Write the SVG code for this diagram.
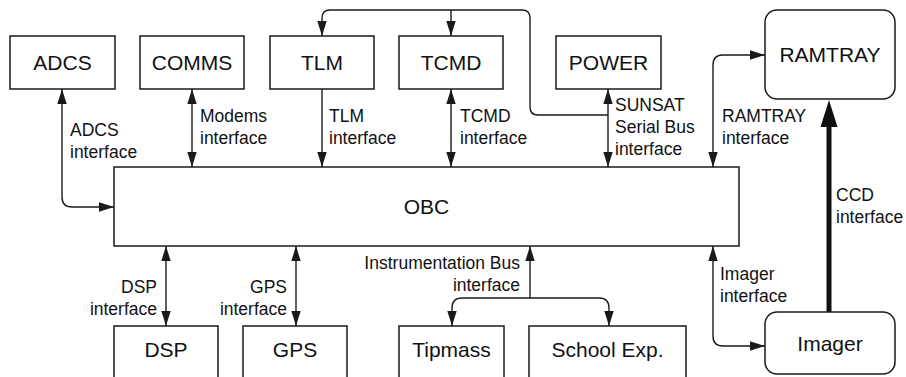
<svg xmlns="http://www.w3.org/2000/svg" width="906" height="377" viewBox="0 0 906 377">
  <style>
    .box { fill: #ffffff; stroke: #1a1a1a; stroke-width: 1.5; }
    .name { font-family: "Liberation Sans", Arial, sans-serif; font-size: 21px; fill: #111; text-anchor: middle; }
    .lbl { font-family: "Liberation Sans", Arial, sans-serif; font-size: 17.5px; fill: #111; }
    .lblr { font-family: "Liberation Sans", Arial, sans-serif; font-size: 17.5px; fill: #111; text-anchor: end; }
    .wire { fill: none; stroke: #1a1a1a; stroke-width: 1.4; }
    .end { marker-end: url(#arr); }
    .both { marker-start: url(#arr); marker-end: url(#arr); }
  </style>
  <defs>
    <marker id="arr" markerUnits="userSpaceOnUse" markerWidth="15" markerHeight="10" viewBox="0 0 15 10" refX="15" refY="5" orient="auto-start-reverse">
      <path d="M0,0.3 L15,5 L0,9.7 z" fill="#1a1a1a"/>
    </marker>
  </defs>
  <rect width="906" height="377" fill="#ffffff"/>

  <!-- connectors -->
  <g id="connectors">
    <!-- SUNSAT serial bus -->
    <path class="wire" marker-start="url(#arr)" d="M322,36 V18 Q322,10 330,10 H522 Q530,10 530,18 V107 Q530,115 538,115 H608"/>
    <path class="wire end" d="M451,10 V36"/>
    <path class="wire both" d="M608,89 V167"/>
    <!-- top interfaces -->
    <path class="wire both" d="M62,89 V197 Q62,207 72,207 H114"/>
    <path class="wire both" d="M192,89 V167"/>
    <path class="wire end" d="M322,89 V167"/>
    <path class="wire both" d="M451,89 V167"/>
    <path class="wire both" d="M713,167 V65 Q713,55 723,55 H765"/>
    <!-- bottom interfaces -->
    <path class="wire both" d="M166,246 V326"/>
    <path class="wire both" d="M296,246 V326"/>
    <path class="wire end" d="M530,298 V246"/>
    <path class="wire both" d="M452,326 V308 Q452,298 462,298 H599 Q609,298 609,308 V326"/>
    <path class="wire both" d="M713,246 V336 Q713,346 723,346 H765"/>
    <!-- CCD link -->
    <path fill="none" stroke="#111" stroke-width="5" d="M829,312 V124"/>
    <polygon points="829,100 820.5,127 837.5,127" fill="#111"/>
  </g>

  <!-- connector labels -->
  <g id="labels">
    <text class="lbl" x="70" y="136">ADCS</text>
    <text class="lbl" x="70" y="158">interface</text>
    <text class="lbl" x="200" y="122">Modems</text>
    <text class="lbl" x="200" y="144">interface</text>
    <text class="lbl" x="329" y="122">TLM</text>
    <text class="lbl" x="329" y="144">interface</text>
    <text class="lbl" x="460" y="122">TCMD</text>
    <text class="lbl" x="460" y="144">interface</text>
    <text class="lbl" x="615" y="111">SUNSAT</text>
    <text class="lbl" x="615" y="133">Serial Bus</text>
    <text class="lbl" x="615" y="155">interface</text>
    <text class="lbl" x="722" y="122">RAMTRAY</text>
    <text class="lbl" x="722" y="144">interface</text>
    <text class="lbl" x="836" y="201">CCD</text>
    <text class="lbl" x="836" y="223">interface</text>
    <text class="lbl" x="720" y="280">Imager</text>
    <text class="lbl" x="720" y="302">interface</text>
    <text class="lblr" x="157" y="293">DSP</text>
    <text class="lblr" x="157" y="315">interface</text>
    <text class="lblr" x="287" y="293">GPS</text>
    <text class="lblr" x="287" y="315">interface</text>
    <text class="lblr" x="520" y="269">Instrumentation Bus</text>
    <text class="lblr" x="520" y="291">interface</text>
  </g>

  <!-- nodes -->
  <g id="adcs"><rect class="box" x="10" y="36" width="105" height="53"/><text class="name" x="62.5" y="70">ADCS</text></g>
  <g id="comms"><rect class="box" x="140" y="36" width="104" height="53"/><text class="name" x="192" y="70">COMMS</text></g>
  <g id="tlm"><rect class="box" x="270" y="36" width="104" height="53"/><text class="name" x="322" y="70">TLM</text></g>
  <g id="tcmd"><rect class="box" x="399" y="36" width="104" height="53"/><text class="name" x="451" y="70">TCMD</text></g>
  <g id="power"><rect class="box" x="556" y="36" width="105" height="53"/><text class="name" x="608.5" y="70">POWER</text></g>
  <g id="ramtray"><rect class="box" x="765" y="10" width="130" height="89" rx="12"/><text class="name" x="830" y="62">RAMTRAY</text></g>
  <g id="obc"><rect class="box" x="114" y="167" width="625" height="79"/><text class="name" x="426.5" y="214">OBC</text></g>
  <g id="dsp"><rect class="box" x="114" y="326" width="104" height="70"/><text class="name" x="166" y="357">DSP</text></g>
  <g id="gps"><rect class="box" x="243" y="326" width="104" height="70"/><text class="name" x="295" y="357">GPS</text></g>
  <g id="tipmass"><rect class="box" x="399" y="326" width="105" height="70"/><text class="name" x="451.5" y="357">Tipmass</text></g>
  <g id="school"><rect class="box" x="529" y="326" width="157" height="70"/><text class="name" x="607.5" y="357">School Exp.</text></g>
  <g id="imager"><rect class="box" x="765" y="312" width="130" height="62" rx="12"/><text class="name" x="830" y="351">Imager</text></g>
</svg>
